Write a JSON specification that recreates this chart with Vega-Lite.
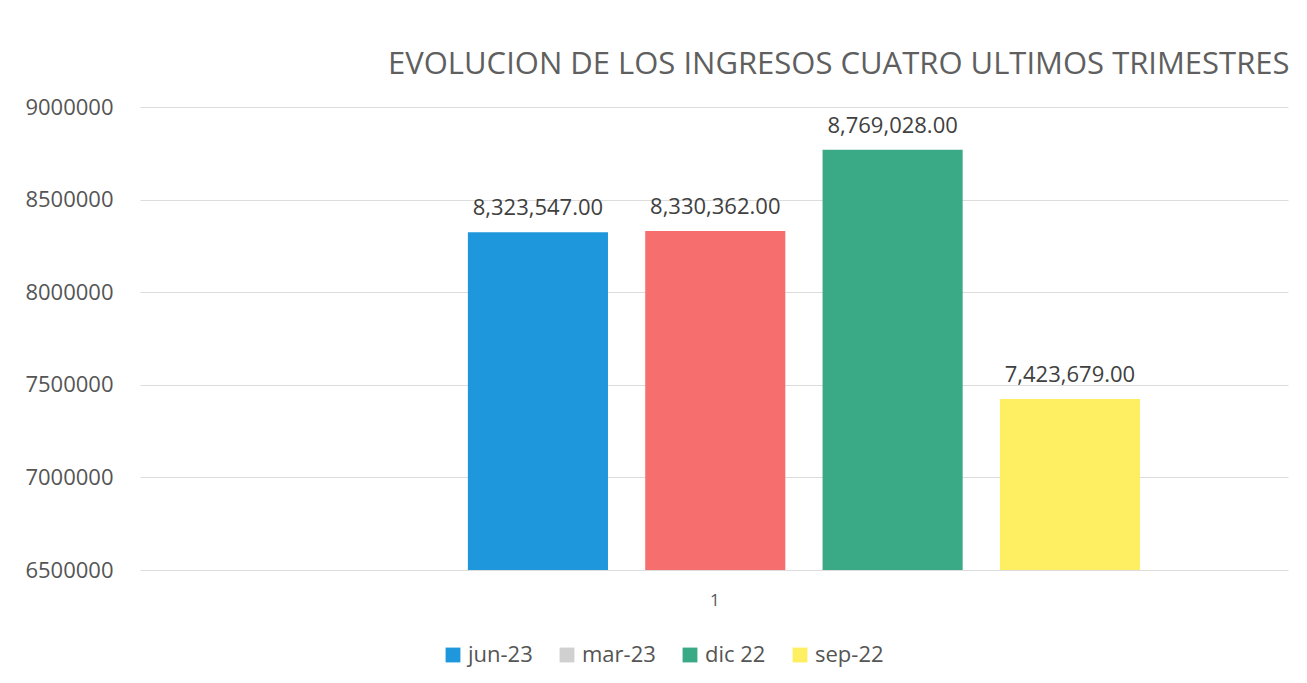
{
  "$schema": "https://vega.github.io/schema/vega-lite/v6.json",
  "autosize": {"type": "none"},
  "padding": {"left": 140, "top": 107, "right": 19, "bottom": 113},
  "width": 1148,
  "height": 463,
  "background": "white",
  "config": {
    "view": {"stroke": null},
    "font": "Open Sans"
  },
  "title": {
    "text": "EVOLUCION DE LOS INGRESOS CUATRO ULTIMOS TRIMESTRES",
    "anchor": "start",
    "frame": "group",
    "dx": 248,
    "offset": -9,
    "baseline": "alphabetic",
    "fontSize": 31,
    "fontWeight": "normal",
    "color": "#5f5f5f",
    "font": "Open Sans"
  },
  "data": {
    "values": [
      {"grupo": "1", "periodo": "jun-23", "ingresos": 8323547},
      {"grupo": "1", "periodo": "mar-23", "ingresos": 8330362},
      {"grupo": "1", "periodo": "dic 22", "ingresos": 8769028},
      {"grupo": "1", "periodo": "sep-22", "ingresos": 7423679}
    ]
  },
  "encoding": {
    "x": {
      "field": "grupo",
      "type": "nominal",
      "scale": {"paddingInner": 0, "paddingOuter": 0.354, "align": 0.689},
      "axis": {
        "title": null,
        "labelAngle": 0,
        "ticks": false,
        "domain": false,
        "labelOffset": -89,
        "labelPadding": 22,
        "labelFontSize": 17,
        "labelColor": "#595959",
        "labelFont": "Open Sans"
      }
    },
    "xOffset": {
      "field": "periodo",
      "type": "nominal",
      "scale": {"domain": ["jun-23", "mar-23", "dic 22", "sep-22"], "paddingInner": 0.21, "paddingOuter": 0}
    },
    "y": {
      "field": "ingresos",
      "type": "quantitative",
      "scale": {"domain": [6500000, 9000000], "nice": false, "zero": false},
      "axis": {
        "title": null,
        "values": [6500000, 7000000, 7500000, 8000000, 8500000, 9000000],
        "format": "d",
        "ticks": false,
        "domain": false,
        "labelPadding": 27,
        "labelFontSize": 22,
        "labelColor": "#555555",
        "labelFont": "Open Sans",
        "gridColor": "#dcdcdc",
        "gridWidth": 1
      }
    }
  },
  "layer": [
    {
      "mark": {"type": "bar", "clip": true},
      "encoding": {
        "color": {
          "field": "periodo",
          "type": "nominal",
          "condition": {"test": "datum.periodo === 'mar-23'", "value": "#f76e6e"},
          "scale": {
            "domain": ["jun-23", "mar-23", "dic 22", "sep-22"],
            "range": ["#1f97dc", "#d0d0d0", "#3aa986", "#fdee62"]
          },
          "legend": {
            "title": null,
            "orient": "none",
            "direction": "horizontal",
            "legendX": 302,
            "legendY": 537,
            "symbolType": "square",
            "symbolSize": 220,
            "symbolStrokeWidth": 0,
            "labelFontSize": 22,
            "labelColor": "#555555",
            "labelFont": "Open Sans",
            "columnPadding": 23,
            "labelOffset": 4
          }
        }
      }
    },
    {
      "mark": {"type": "text", "baseline": "bottom", "dy": -12, "fontSize": 22, "color": "#404040", "font": "Open Sans"},
      "encoding": {
        "text": {"field": "ingresos", "type": "quantitative", "format": ",.2f"}
      }
    }
  ]
}
